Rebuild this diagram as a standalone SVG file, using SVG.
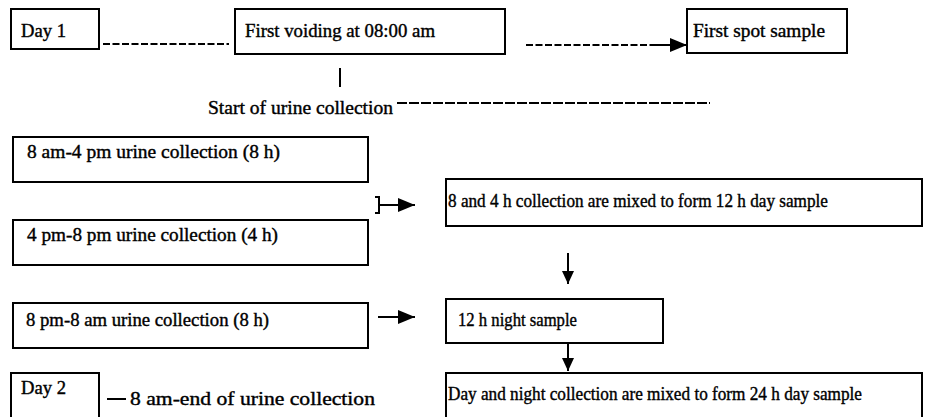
<svg xmlns="http://www.w3.org/2000/svg" width="931" height="417" viewBox="0 0 931 417">
<style>
.box{fill:#fff;stroke:#000;stroke-width:2}
.t{font-size:19px;fill:#000;stroke:#000;stroke-width:0.4}
.ln{stroke:#000;stroke-width:2;fill:none}
.dash{stroke:#000;stroke-width:2;fill:none;stroke-dasharray:7 2.5}
.dash2{stroke:#000;stroke-width:2;fill:none;stroke-dasharray:10 2}
</style>
<defs>
<marker id="ah" markerWidth="17" markerHeight="14" refX="17" refY="7" orient="auto" markerUnits="userSpaceOnUse">
<path d="M0,0 L17,7 L0,14 Z" fill="#000"/>
</marker>
<marker id="ah2" markerWidth="13" markerHeight="12" refX="13" refY="6" orient="auto" markerUnits="userSpaceOnUse">
<path d="M0,0 L13,6 L0,12 Z" fill="#000"/>
</marker>
</defs>
<rect width="931" height="417" fill="#fff"/>
<g font-family="'Liberation Serif', 'DejaVu Serif', serif">
<g id="day1"><rect class="box" x="11" y="9" width="88" height="40"/><text class="t" x="21" y="37" textLength="45" lengthAdjust="spacingAndGlyphs">Day 1</text></g>
<g id="first-voiding"><rect class="box" x="235" y="9" width="270" height="45"/><text class="t" x="245" y="37" textLength="190" lengthAdjust="spacingAndGlyphs">First voiding at 08:00 am</text></g>
<g id="first-spot"><rect class="box" x="687" y="9" width="160" height="44"/><text class="t" x="693" y="37" textLength="132" lengthAdjust="spacingAndGlyphs">First spot sample</text></g>
<g id="start-label"><text class="t" x="208" y="114" textLength="185" lengthAdjust="spacingAndGlyphs">Start of urine collection</text></g>
<g id="b84"><rect class="box" x="13" y="137" width="355" height="45"/><text class="t" x="27" y="158" textLength="253" lengthAdjust="spacingAndGlyphs">8 am-4 pm urine collection (8 h)</text></g>
<g id="b48"><rect class="box" x="13" y="220" width="355" height="45"/><text class="t" x="27" y="241" textLength="251" lengthAdjust="spacingAndGlyphs">4 pm-8 pm urine collection (4 h)</text></g>
<g id="mix12"><rect class="box" x="446" y="179" width="476" height="47"/><text class="t" x="448" y="207" textLength="380" lengthAdjust="spacingAndGlyphs">8 and 4 h collection are mixed to form 12 h day sample</text></g>
<g id="b88"><rect class="box" x="13" y="303" width="355" height="45"/><text class="t" x="26" y="326" textLength="243" lengthAdjust="spacingAndGlyphs">8 pm-8 am urine collection (8 h)</text></g>
<g id="night12"><rect class="box" x="446" y="299" width="217" height="44"/><text class="t" x="458" y="326" textLength="119" lengthAdjust="spacingAndGlyphs">12 h night sample</text></g>
<g id="day2"><rect class="box" x="11" y="373" width="88" height="50"/><text class="t" x="21" y="394" textLength="45" lengthAdjust="spacingAndGlyphs">Day 2</text></g>
<g id="end-label"><text class="t" x="130" y="405" textLength="245" lengthAdjust="spacingAndGlyphs">8 am-end of urine collection</text></g>
<g id="mix24"><rect class="box" x="446" y="373" width="476" height="50"/><text class="t" x="448" y="400" textLength="414" lengthAdjust="spacingAndGlyphs">Day and night collection are mixed to form 24 h day sample</text></g>
</g>
<g id="connectors">
<line class="dash" x1="103" y1="44" x2="229" y2="44"/>
<line class="dash" x1="526" y1="45" x2="653" y2="45"/>
<line class="ln" x1="652" y1="45" x2="687" y2="45" marker-end="url(#ah)"/>
<line class="ln" x1="340" y1="68" x2="340" y2="87"/>
<line class="dash2" x1="397" y1="103" x2="710" y2="103"/>
<path class="ln" d="M375,197 H379 V213 H375"/>
<line class="ln" x1="379" y1="205" x2="415" y2="205" marker-end="url(#ah)"/>
<line class="ln" x1="568" y1="253" x2="568" y2="284" marker-end="url(#ah2)"/>
<line class="ln" x1="378" y1="317" x2="415" y2="317" marker-end="url(#ah)"/>
<line class="ln" x1="568" y1="343" x2="568" y2="371" marker-end="url(#ah2)"/>
<line class="ln" x1="107" y1="399" x2="126" y2="399"/>
</g>
</svg>
